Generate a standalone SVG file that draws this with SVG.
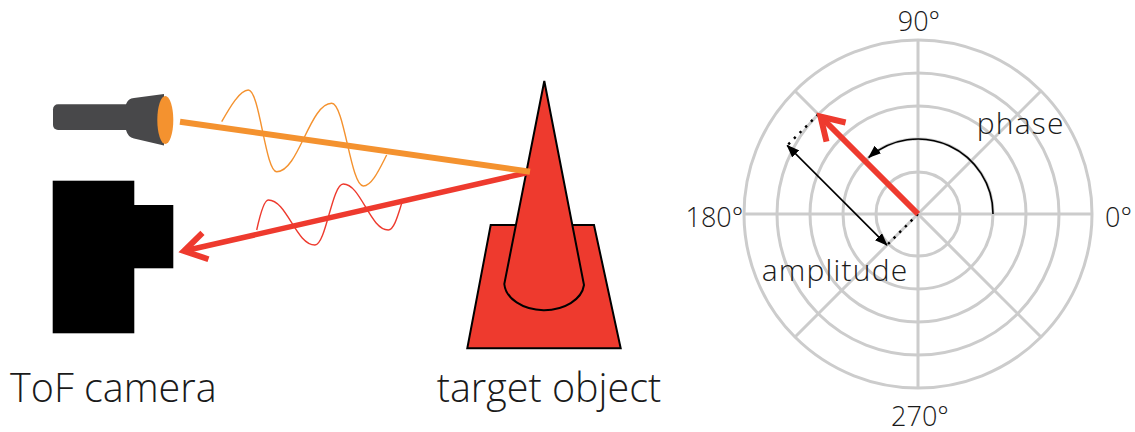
<svg xmlns="http://www.w3.org/2000/svg" width="1135" height="432" viewBox="0 0 1135 432">
  <style>
    .label { font-family: "Open Sans", "Liberation Sans", sans-serif; font-weight: 300; fill: #1a1a1a; }
    .big { font-size: 39.5px; }
    .deg { font-size: 27px; }
    .anno { font-size: 30px; letter-spacing: 1.2px; }
    .grid { fill: none; stroke: #cccccc; stroke-width: 3; }
    .beam-o { stroke: #f4922f; stroke-width: 6; fill: none; }
    .beam-r { stroke: #ee3a2e; stroke-width: 5.5; fill: none; }
    .wave-o { stroke: #f4922f; stroke-width: 1.4; fill: none; }
    .wave-r { stroke: #ee3a2e; stroke-width: 1.4; fill: none; }
    .cone { fill: #ee3a2e; stroke: #000; stroke-width: 2; stroke-linejoin: miter; }
    .thin { stroke: #000; stroke-width: 1.6; fill: none; }
    .dots { stroke: #000; stroke-width: 2.4; fill: none; stroke-dasharray: 2.4 5.6; }
  </style>
  <defs>
    <marker id="chevron" markerUnits="userSpaceOnUse" viewBox="-30 -20 40 40" refX="0" refY="0" markerWidth="40" markerHeight="40" orient="auto" overflow="visible">
      <path d="M-22,-13.5 L0,0 L-22,13.5" fill="none" stroke="#ee3a2e" stroke-width="6" stroke-linejoin="miter"/>
    </marker>
    <marker id="head" markerUnits="userSpaceOnUse" viewBox="0 0 13 10" refX="12" refY="5" markerWidth="13" markerHeight="10" orient="auto-start-reverse">
      <path d="M0,0 L13,5 L0,10 Z" fill="#000"/>
    </marker>
  </defs>

  <!-- flashlight -->
  <g id="flashlight">
    <rect x="53" y="104.3" width="80" height="25.7" rx="5" fill="#48484a"/>
    <path d="M126,104.3 Q128,98.5 134,98 L164,94 L164,145.5 L134,138.5 Q128,137.5 126,130 Z" fill="#48484a"/>
    <ellipse cx="165.3" cy="120" rx="8" ry="24" fill="#f4922f"/>
  </g>

  <!-- camera -->
  <g id="camera">
    <rect x="52.7" y="180.7" width="81.6" height="152.6" fill="#000"/>
    <rect x="133" y="205" width="40.3" height="63.3" fill="#000"/>
  </g>

  <!-- target object: cone on its base -->
  <g id="target">
    <polygon class="cone" points="490.7,225 594,225 620.7,348.3 467.3,348.3"/>
    <path class="cone" d="M544.3,81 L584,285 A40 28 0 0 1 504.3,284 Z"/>
  </g>

  <!-- light paths with their modulation waves -->
  <g id="connectors">
    <path class="wave-o" d="M221.7,121.7 C230,107 240,90 248.3,90 C259.7,90 265.3,171.7 276.7,171.7 C298.7,171.7 309.7,103.3 331.7,103.3 C344.3,103.3 350.7,186 363.3,186 C372,186 380,168 386.7,155"/>
    <path class="wave-r" d="M256.7,230 C260,215 264,200 268.3,200 C287,200 296,245 315,245 C326,245 332,184 343.3,184 C361,184 370,230 388.3,230 C394,230 398,215 401.7,203.3"/>
    <line class="beam-r" x1="530" y1="172" x2="184" y2="251" marker-end="url(#chevron)"/>
    <line class="beam-o" x1="180" y1="121.7" x2="530" y2="171.7"/>
  </g>

  <!-- polar phasor chart -->
  <g id="polar">
    <circle class="grid" cx="918" cy="214" r="42"/>
    <circle class="grid" cx="918" cy="214" r="75"/>
    <circle class="grid" cx="918" cy="214" r="108"/>
    <circle class="grid" cx="918" cy="214" r="141"/>
    <circle class="grid" cx="918" cy="214" r="174"/>
    <line class="grid" x1="744" y1="214" x2="1092" y2="214"/>
    <line class="grid" x1="918" y1="40" x2="918" y2="388"/>
    <line class="grid" x1="795" y1="91" x2="1041" y2="337"/>
    <line class="grid" x1="795" y1="337" x2="1041" y2="91"/>
  </g>

  <g id="phasor">
    <path class="thin" d="M993,214 A75 75 0 0 0 868.8,157.4" marker-end="url(#head)"/>
    <line class="dots" x1="918" y1="214" x2="886.9" y2="245.1"/>
    <line class="dots" x1="818.3" y1="114.3" x2="787.2" y2="145.4"/>
    <line class="thin" x1="787.2" y1="145.4" x2="886.9" y2="245.1" marker-start="url(#head)" marker-end="url(#head)"/>
    <line stroke="#ee3a2e" stroke-width="6" x1="918" y1="214" x2="820.5" y2="116.5" marker-end="url(#chevron)"/>
  </g>

  <g id="labels">
    <text class="label big" x="10" y="401.7">ToF camera</text>
    <text class="label big" x="436.7" y="401.7">target object</text>
    <text class="label deg" x="919" y="30.7" text-anchor="middle">90°</text>
    <text class="label deg" x="743.3" y="226.7" text-anchor="end">180°</text>
    <text class="label deg" x="1105" y="226.7">0°</text>
    <text class="label deg" x="920" y="426" text-anchor="middle">270°</text>
    <text class="label anno" x="976.7" y="134.3">phase</text>
    <text class="label anno" x="761.7" y="281">amplitude</text>
  </g>
</svg>
